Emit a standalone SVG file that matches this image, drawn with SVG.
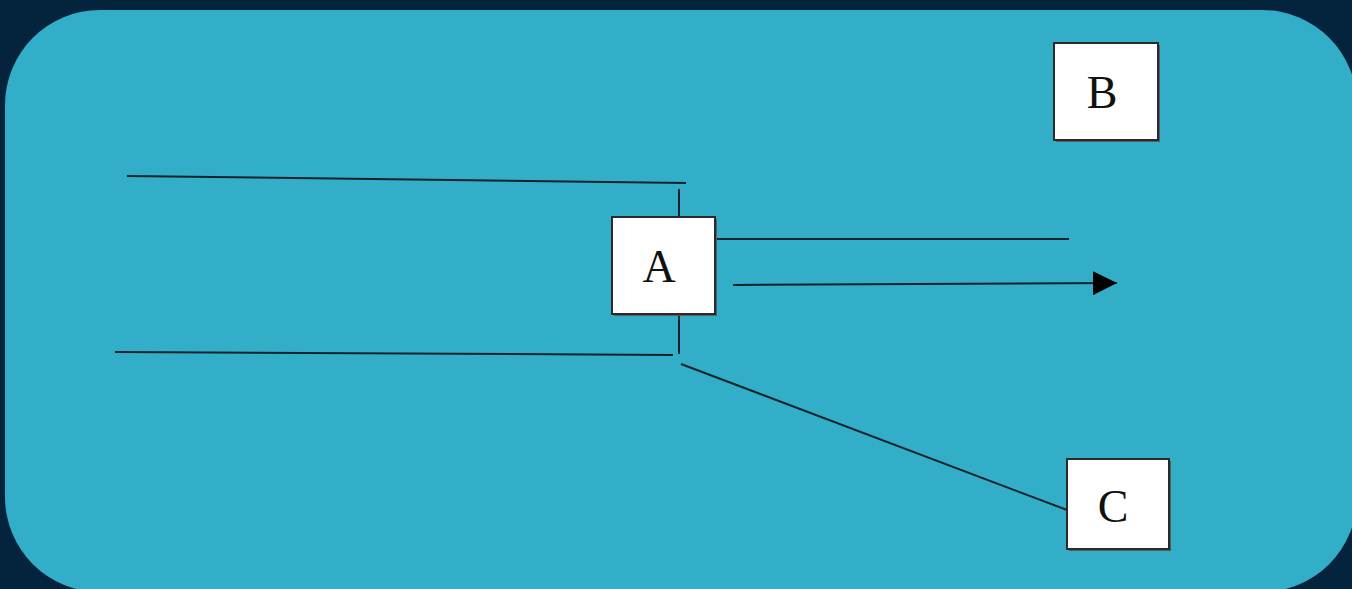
<svg xmlns="http://www.w3.org/2000/svg" width="1352" height="589" viewBox="0 0 1352 589">
  <style>
    .box { fill: #ffffff; stroke: #2a2a2a; stroke-width: 2; }
    .shadow { fill: #555f63; }
    .lbl { font-family: "Liberation Serif", "DejaVu Serif", serif; font-size: 46px; fill: #111111; text-anchor: middle; }
    .wire { stroke: #14232b; stroke-width: 2; fill: none; }
  </style>
  <defs>
    <marker id="head" viewBox="0 0 24 24" refX="24" refY="12" markerWidth="24" markerHeight="24" markerUnits="userSpaceOnUse" orient="auto">
      <path d="M0,0 L24,12 L0,24 Z" fill="#000000"/>
    </marker>
  </defs>

  <!-- backdrop -->
  <rect x="0" y="0" width="1352" height="589" fill="#03243c"/>
  <rect x="5" y="10" width="1352" height="582" rx="95" ry="95" fill="#33aec8"/>

  <!-- connectors -->
  <g id="connectors">
    <line class="wire" x1="127" y1="176" x2="686" y2="183"/>
    <line class="wire" x1="679" y1="189" x2="679" y2="217"/>
    <line class="wire" x1="679" y1="314" x2="679" y2="354"/>
    <line class="wire" x1="115" y1="352" x2="673" y2="355"/>
    <line class="wire" x1="681" y1="364" x2="1067" y2="510"/>
    <line class="wire" x1="715" y1="239" x2="1069" y2="239"/>
    <line class="wire" x1="733" y1="285" x2="1117" y2="283" marker-end="url(#head)"/>
  </g>

  <!-- node A -->
  <g id="node-a">
    <rect class="shadow" x="614" y="219" width="103" height="97"/>
    <rect class="box" x="612" y="217" width="103" height="97"/>
    <text class="lbl" x="659" y="282">A</text>
  </g>

  <!-- node B -->
  <g id="node-b">
    <rect class="shadow" x="1056" y="45" width="104" height="97"/>
    <rect class="box" x="1054" y="43" width="104" height="97"/>
    <text class="lbl" x="1102" y="108">B</text>
  </g>

  <!-- node C -->
  <g id="node-c">
    <rect class="shadow" x="1069" y="461" width="102" height="90"/>
    <rect class="box" x="1067" y="459" width="102" height="90"/>
    <text class="lbl" x="1113" y="522">C</text>
  </g>
</svg>
